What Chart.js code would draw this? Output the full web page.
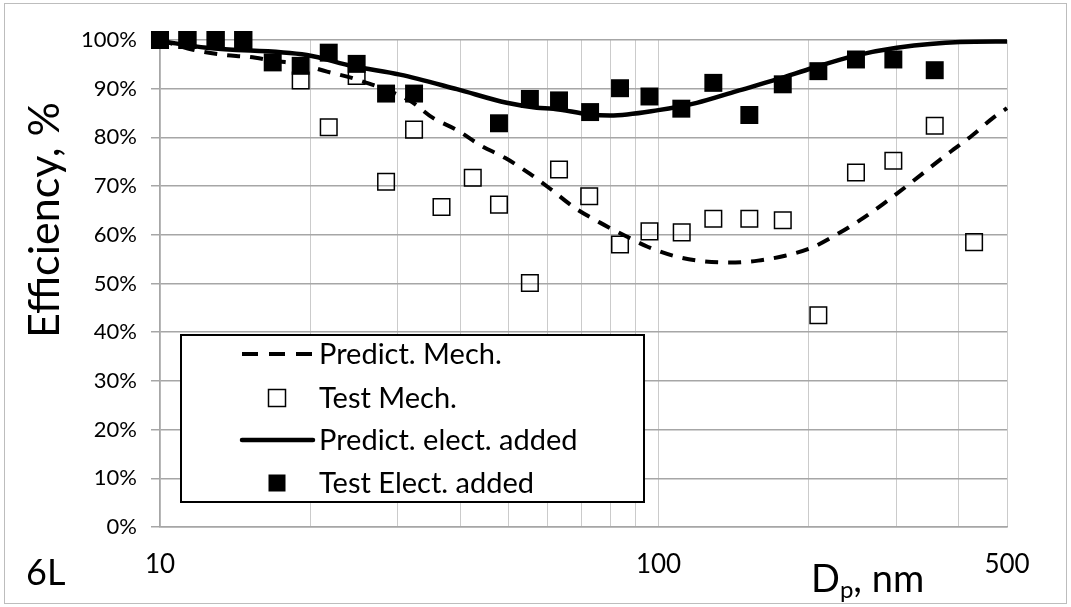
<!DOCTYPE html>
<html>
<head>
<meta charset="utf-8">
<title>Efficiency vs particle diameter</title>
<script src="https://cdn.jsdelivr.net/npm/chart.js@4.4.1/dist/chart.umd.min.js"></script>
<style>
  html, body { margin: 0; padding: 0; background: #ffffff; }
  #wrap { width: 1071px; height: 607px; position: relative; }
</style>
</head>
<body>
<div id="wrap"><canvas id="chart" width="1071" height="607"></canvas></div>
<script>
const FONT = "Lato, 'Open Sans', 'DejaVu Sans', sans-serif";

// Axis ticks: particle diameter (nm) grid positions and the ones that carry a label
const xTickValues = [10, 20, 30, 40, 50, 60, 70, 80, 90, 100, 200, 300, 400, 500];
const xTickLabels = [10, 100, 500];
const yTickValues = [0, 10, 20, 30, 40, 50, 60, 70, 80, 90, 100];

// Series names
const seriesNames = ['Predict. Mech.', 'Test Mech.', 'Predict. elect. added', 'Test Elect. added'];

// Predicted efficiency, mechanical filtration only
const predictMechD   = [10, 11.65, 13.26, 15.15, 17.01, 19.18, 21.63, 24.62, 31.73, 35.28, 39.42, 44.06, 49.2, 55.24, 60.9, 68.0, 76.3, 85.7, 95.3, 107.9, 121.7, 139.1, 158.4, 179.4, 202.3, 227.0, 253.6, 282.0, 384.5, 425.6, 468.8, 500];
const predictMechEff = [100, 98.0, 97.0, 96.5, 95.7, 95.0, 93.5, 92.0, 87.5, 84.0, 81.5, 78.3, 75.8, 72.5, 69.3, 65.5, 62.5, 59.8, 57.5, 55.6, 54.6, 54.3, 54.7, 55.7, 57.3, 60.0, 63.0, 66.3, 77.0, 80.4, 84.0, 86.0];

// Measured efficiency, mechanical filtration only
const testMechD   = [10, 11.35, 12.93, 14.69, 19.15, 21.8, 24.8, 28.41, 32.33, 36.7, 42.4, 47.86, 55.2, 63.15, 72.6, 83.7, 95.9, 111.3, 128.8, 152.1, 177.5, 209.2, 248.9, 295.8, 358.1, 429.5];
const testMechEff = [100, 100, 100, 100, 91.7, 82.1, 92.6, 70.9, 81.6, 65.7, 71.7, 66.2, 50.1, 73.4, 67.9, 58.0, 60.7, 60.5, 63.3, 63.3, 63.0, 43.5, 72.8, 75.2, 82.4, 58.5];

// Predicted efficiency with electrostatic effect added
const predictElecD   = [10, 12.41, 19.7, 24.42, 30.29, 39.4, 49.6, 56.97, 61.5, 72.9, 79.9, 99.9, 119.3, 143.5, 172.6, 204.4, 245.9, 300.5, 402.6, 500];
const predictElecEff = [99.8, 98.4, 96.9, 94.6, 92.9, 89.9, 87.1, 86.1, 85.9, 84.7, 84.5, 85.6, 87.1, 89.5, 91.9, 94.3, 96.7, 98.4, 99.6, 99.7];

// Measured efficiency with electrostatic effect added
const testElecD   = [10, 11.35, 12.93, 14.69, 16.83, 19.15, 21.8, 24.8, 28.41, 32.33, 47.86, 55.2, 63.15, 72.9, 83.7, 95.9, 111.1, 128.8, 152.1, 177.5, 209.2, 248.9, 295.8, 358.1];
const testElecEff = [100, 100, 100, 100, 95.4, 94.7, 97.4, 95.1, 89.0, 89.0, 82.9, 87.9, 87.6, 85.2, 90.1, 88.4, 85.9, 91.2, 84.6, 90.9, 93.6, 96.0, 96.0, 93.8];

const toPoints = (xs, ys) => xs.map((x, i) => ({ x: x, y: ys[i] }));

// Boxed legend inside the plot, drawn from the dataset styles
const boxLegend = {
  id: 'boxLegend',
  afterDatasetsDraw(chart) {
    const ctx = chart.ctx;
    const box = { left: 180, top: 334, right: 645, bottom: 503 };
    const rows = [354, 398, 440, 483];
    ctx.save();
    ctx.fillStyle = '#ffffff';
    ctx.fillRect(box.left, box.top, box.right - box.left, box.bottom - box.top);
    ctx.lineWidth = 2;
    ctx.strokeStyle = '#000000';
    ctx.strokeRect(box.left + 1, box.top + 1, box.right - box.left - 2, box.bottom - box.top - 2);

    chart.data.datasets.forEach((ds, i) => {
      const y = rows[i];
      if (ds.showLine) {
        ctx.beginPath();
        ctx.lineWidth = ds.borderWidth;
        ctx.strokeStyle = ds.borderColor;
        ctx.setLineDash(ds.borderDash ? [16, 11] : []);
        ctx.lineCap = ds.borderDash ? 'butt' : 'round';
        ctx.moveTo(242, y);
        ctx.lineTo(313, y);
        ctx.stroke();
        ctx.setLineDash([]);
      } else {
        const side = 17;
        if (ds.pointBorderWidth > 0) {
          ctx.lineWidth = 1.5;
          ctx.strokeStyle = '#000000';
          ctx.strokeRect(277 - side / 2, y - side / 2, side, side);
        } else {
          ctx.fillStyle = '#000000';
          ctx.fillRect(277 - side / 2, y - side / 2, side, side);
        }
      }
      ctx.fillStyle = '#000000';
      ctx.font = '29px ' + FONT;
      ctx.textBaseline = 'middle';
      ctx.textAlign = 'left';
      ctx.fillText(ds.label, 319, y + 1);
    });
    ctx.restore();
  }
};

// Axis titles, panel tag and the outer frame
const annotations = {
  id: 'annotations',
  afterDraw(chart) {
    const ctx = chart.ctx;
    ctx.save();
    ctx.fillStyle = '#000000';

    ctx.save();
    ctx.translate(45, 220);
    ctx.rotate(-Math.PI / 2);
    ctx.font = '43px ' + FONT;
    ctx.textAlign = 'center';
    ctx.textBaseline = 'middle';
    ctx.fillText('Efficiency, %', 0, 0);
    ctx.restore();

    ctx.font = '36px ' + FONT;
    ctx.textAlign = 'left';
    ctx.textBaseline = 'alphabetic';
    ctx.fillText('6L', 26, 585);

    let x = 811;
    ctx.font = '38px ' + FONT;
    ctx.fillText('D', x, 592);
    x += ctx.measureText('D').width;
    ctx.font = '24px ' + FONT;
    ctx.fillText('p', x, 598);
    x += ctx.measureText('p').width;
    ctx.font = '38px ' + FONT;
    ctx.fillText(', nm', x, 592);

    ctx.lineWidth = 1;
    ctx.strokeStyle = '#bdbdbd';
    ctx.strokeRect(4.5, 3.5, 1062, 600);
    ctx.restore();
  }
};

new Chart(document.getElementById('chart'), {
  type: 'scatter',
  data: {
    datasets: [
      {
        label: seriesNames[0],
        data: toPoints(predictMechD, predictMechEff),
        showLine: true,
        borderColor: '#000000',
        borderWidth: 4,
        borderDash: [13, 10],
        cubicInterpolationMode: 'monotone',
        pointRadius: 0,
        fill: false,
        clip: false,
        order: 3
      },
      {
        label: seriesNames[1],
        data: toPoints(testMechD, testMechEff),
        showLine: false,
        pointStyle: 'rect',
        pointRadius: 11.7,
        pointBorderWidth: 1.5,
        pointBorderColor: '#000000',
        pointBackgroundColor: 'rgba(0,0,0,0)',
        clip: false,
        order: 2
      },
      {
        label: seriesNames[2],
        data: toPoints(predictElecD, predictElecEff),
        showLine: true,
        borderColor: '#000000',
        borderWidth: 4.5,
        cubicInterpolationMode: 'monotone',
        pointRadius: 0,
        fill: false,
        clip: false,
        order: 1
      },
      {
        label: seriesNames[3],
        data: toPoints(testElecD, testElecEff),
        showLine: false,
        pointStyle: 'rect',
        pointRadius: 12.7,
        pointBorderWidth: 0,
        pointBackgroundColor: '#000000',
        clip: false,
        order: 0
      }
    ]
  },
  options: {
    responsive: false,
    animation: false,
    events: [],
    layout: { padding: { left: 0, top: 40, right: 64, bottom: 0 } },
    plugins: {
      legend: { display: false },
      tooltip: { enabled: false },
      title: { display: false }
    },
    scales: {
      x: {
        type: 'logarithmic',
        min: 10,
        max: 500,
        afterBuildTicks(axis) { axis.ticks = xTickValues.map(v => ({ value: v })); },
        afterFit(axis) { axis.height = 80; },
        grid: { color: '#cbcbcb', lineWidth: 1, drawTicks: false },
        border: { display: true, color: '#a6a6a6', width: 1.5 },
        ticks: {
          autoSkip: false,
          maxRotation: 0,
          padding: 22,
          color: '#000000',
          font: { family: FONT, size: 26 },
          callback: (v) => xTickLabels.includes(v) ? String(v) : ''
        }
      },
      y: {
        min: 0,
        max: 100,
        afterBuildTicks(axis) { axis.ticks = yTickValues.map(v => ({ value: v })); },
        afterFit(axis) { axis.width = 160; },
        grid: { color: '#a6a6a6', lineWidth: 1.5, tickLength: 9 },
        border: { display: true, color: '#a6a6a6', width: 1.5 },
        ticks: {
          padding: 14,
          color: '#000000',
          font: { family: FONT, size: 22 },
          callback: (v) => v + '%'
        }
      }
    }
  },
  plugins: [boxLegend, annotations]
});
</script>
</body>
</html>
